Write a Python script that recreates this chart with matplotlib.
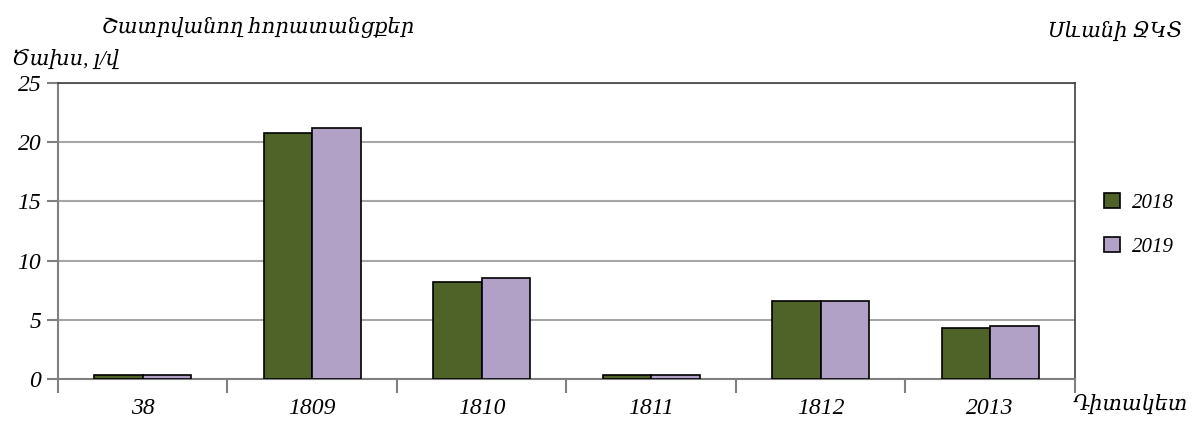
import numpy as np
import matplotlib
matplotlib.use('Agg')
import matplotlib.pyplot as plt

plt.rcParams['font.family'] = ['Liberation Serif', 'DejaVu Serif']
plt.rcParams['font.style'] = 'italic'

# данные
categories = ['38', '1809', '1810', '1811', '1812', '2013']
vals_2018 = [0.3, 20.8, 8.2, 0.3, 6.6, 4.3]
vals_2019 = [0.3, 21.2, 8.5, 0.3, 6.6, 4.5]
years = ['2018', '2019']
colors = ['#4F6228', '#B2A1C7']

fig = plt.figure(figsize=(12, 4.28), dpi=100)
ax = fig.add_axes([0.0483, 0.1145, 0.8475, 0.6916])

x = np.arange(len(categories))
w = 0.285
ax.bar(x - w / 2, vals_2018, w, color=colors[0], edgecolor='black', linewidth=1.2, label=years[0], zorder=3)
ax.bar(x + w / 2, vals_2019, w, color=colors[1], edgecolor='black', linewidth=1.2, label=years[1], zorder=3)

ax.set_xlim(-0.5, len(categories) - 0.5)
ax.set_ylim(0, 25)
ax.set_yticks([0, 5, 10, 15, 20, 25])
ax.yaxis.grid(True, color='#A6A6A6', linewidth=1.5, zorder=0)
ax.set_axisbelow(True)

# деления между категориями
ax.set_xticks(np.arange(-0.5, len(categories), 1.0))
ax.set_xticklabels([])
ax.set_xticks(x, minor=True)
ax.set_xticklabels(categories, minor=True, fontsize=17)
ax.tick_params(axis='x', which='major', length=10, width=1.5, color='#808080')
ax.tick_params(axis='x', which='minor', length=0, pad=14)
ax.tick_params(axis='y', length=8, width=1.5, color='#808080', labelsize=17, pad=4)

for s in ['left', 'bottom']:
    ax.spines[s].set_color('#808080')
    ax.spines[s].set_linewidth(1.5)
for s in ['top', 'right']:
    ax.spines[s].set_color('#404040')
    ax.spines[s].set_linewidth(1.2)

fig.text(0.085, 0.935, 'Շատրվանող հորատանցքեր', fontsize=15, ha='left', va='center')
fig.text(0.01, 0.86, 'Ծախս, լ/վ', fontsize=15, ha='left', va='center')
fig.text(0.985, 0.925, 'Սևանի ՋԿՏ', fontsize=15, ha='right', va='center')
fig.text(0.99, 0.055, 'Դիտակետ', fontsize=15, ha='right', va='center')

leg = ax.legend(loc='center left', bbox_to_anchor=(1.01, 0.52), frameon=False,
                fontsize=15, handlelength=0.75, handleheight=0.75, labelspacing=1.15,
                handletextpad=0.6)

fig.savefig('out.png', dpi=100)
